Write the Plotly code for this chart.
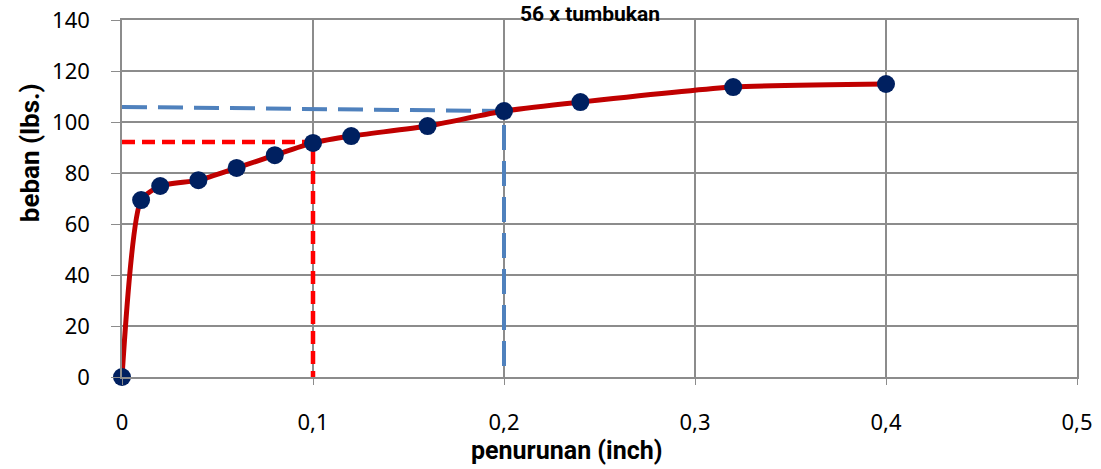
import plotly.graph_objects as go

penurunan = [0, 0.01, 0.02, 0.04, 0.06, 0.08, 0.10, 0.12, 0.16, 0.20, 0.24, 0.32, 0.40]
beban = [0, 69.4, 74.9, 77.2, 82.0, 87.0, 91.8, 94.5, 98.4, 104.3, 107.8, 113.7, 114.9]

red_x = [0, 0.1, 0.1]
red_y = [92.2, 92.2, 0]
blue_x = [0, 0.2, 0.2]
blue_y = [105.9, 104.3, 0]

x_ticks = [0, 0.1, 0.2, 0.3, 0.4, 0.5]
y_ticks = [0, 20, 40, 60, 80, 100, 120, 140]

title_text = "56 x tumbukan"
x_title = "penurunan (inch)"
y_title = "beban (lbs.)"

fig = go.Figure()
fig.add_trace(go.Scatter(x=red_x, y=red_y, mode="lines",
                         line=dict(color="#FF0000", width=4.5, dash="13px,7px"),
                         hoverinfo="skip", cliponaxis=False))
fig.add_trace(go.Scatter(x=blue_x, y=blue_y, mode="lines",
                         line=dict(color="#4F81BD", width=4, dash="25px,11px"),
                         hoverinfo="skip", cliponaxis=False))
fig.add_trace(go.Scatter(x=penurunan, y=beban, mode="lines+markers",
                         line=dict(color="#C00000", width=5, shape="spline", smoothing=0.6),
                         marker=dict(color="#002060", size=18),
                         cliponaxis=False))

font_ticks = dict(family="Noto Sans", size=22, color="#000000")
fig.update_layout(
    width=1101, height=469,
    margin=dict(l=122, r=24, t=20, b=92, autoexpand=False),
    paper_bgcolor="white", plot_bgcolor="white",
    showlegend=False,
    separators=",.",
    xaxis=dict(range=[0, 0.5], tickvals=x_ticks, showgrid=True, gridcolor="#8C8C8C",
               gridwidth=1.5, showline=True, linecolor="#8C8C8C", linewidth=1.5,
               mirror=True, zeroline=False, ticks="outside", ticklen=6, automargin=False,
               tickcolor="#8C8C8C", tickfont=font_ticks, ticklabelstandoff=19),
    yaxis=dict(range=[0, 140], tickvals=y_ticks, showgrid=True, gridcolor="#8C8C8C",
               gridwidth=1.5, showline=True, linecolor="#8C8C8C", linewidth=1.5,
               mirror=True, zeroline=False, ticks="outside", ticklen=9, automargin=False,
               tickcolor="#8C8C8C", tickfont=font_ticks, ticklabelstandoff=17),
    annotations=[
        dict(text="<b>" + title_text + "</b>", xref="paper", yref="paper",
             x=0.49, y=1.056, xanchor="center", yanchor="top", showarrow=False,
             font=dict(family="Roboto", size=21, color="#000000")),
        dict(text="<b>" + x_title + "</b>", xref="paper", yref="paper",
             x=0.466, y=-0.207, xanchor="center", yanchor="middle", showarrow=False,
             font=dict(family="Roboto", size=25, color="#000000")),
        dict(text="<b>" + y_title + "</b>", xref="paper", yref="paper",
             x=-0.0963, y=0.627, xanchor="center", yanchor="middle", showarrow=False,
             textangle=-90, font=dict(family="Roboto", size=26, color="#000000")),
    ],
)

fig.write_html("out.html", config={"displayModeBar": False},
               post_script="document.body.style.margin='0px';")
